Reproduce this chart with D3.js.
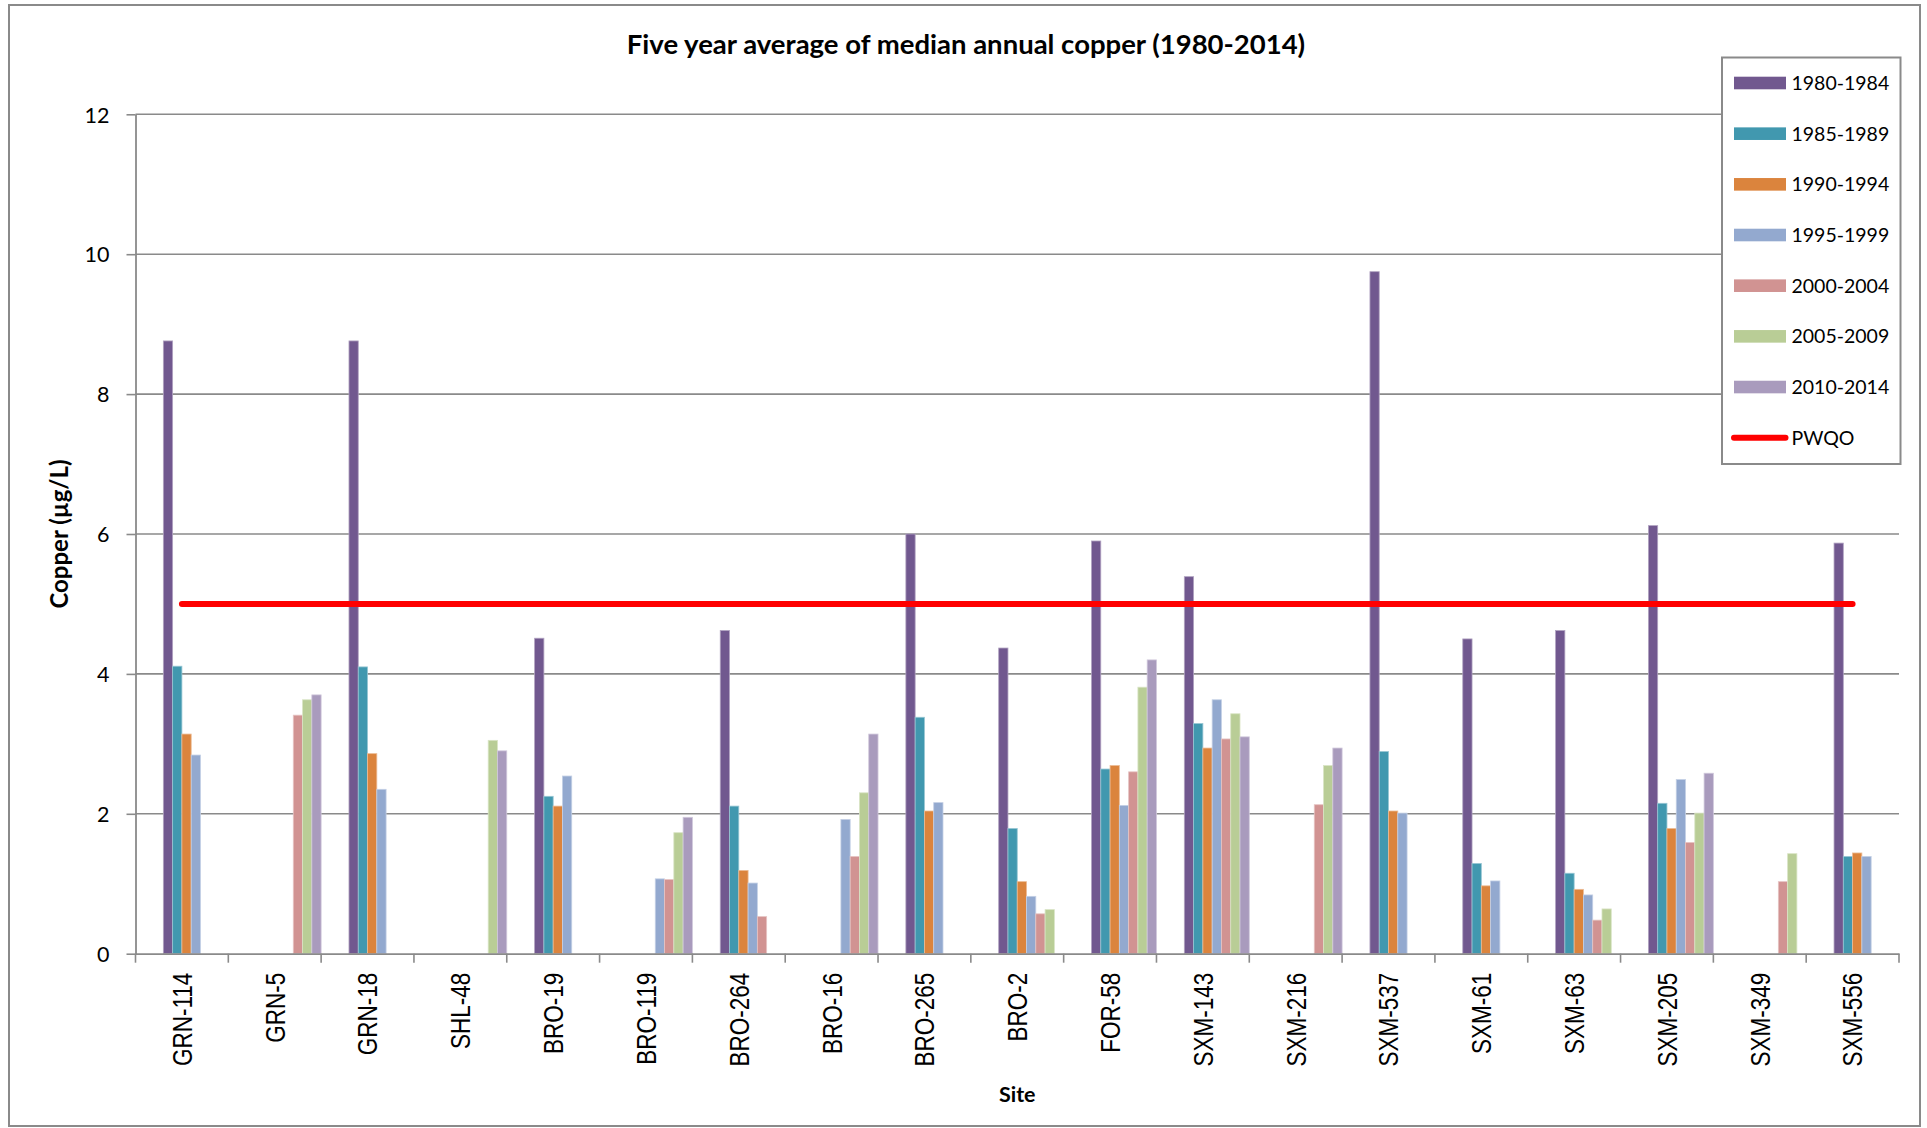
<!DOCTYPE html>
<html>
<head>
<meta charset="utf-8">
<script src="https://cdn.jsdelivr.net/npm/d3@7"></script>
<style>
  html, body { margin: 0; padding: 0; background: #fff; }
  svg { display: block; }
</style>
</head>
<body>
<svg id="chart" width="1927" height="1128"></svg>
<script>
// Sites along the x axis
const sites = ["GRN-114", "GRN-5", "GRN-18", "SHL-48", "BRO-19", "BRO-119", "BRO-264",
  "BRO-16", "BRO-265", "BRO-2", "FOR-58", "SXM-143", "SXM-216", "SXM-537", "SXM-61",
  "SXM-63", "SXM-205", "SXM-349", "SXM-556"];

// Five-year averages of median annual copper (µg/L); null = no data for that period
const p1980_1984 = [8.76, null, 8.76, null, 4.51, null, 4.62, null, 6.00, 4.37, 5.90, 5.39, null, 9.75, 4.50, 4.62, 6.12, null, 5.87];
const p1985_1989 = [4.11, null, 4.10, null, 2.25, null, 2.11, null, 3.38, 1.79, 2.64, 3.29, null, 2.89, 1.29, 1.15, 2.15, null, 1.39];
const p1990_1994 = [3.14, null, 2.86, null, 2.11, null, 1.19, null, 2.04, 1.03, 2.69, 2.94, null, 2.04, 0.97, 0.92, 1.79, null, 1.44];
const p1995_1999 = [2.84, null, 2.35, null, 2.54, 1.07, 1.01, 1.92, 2.16, 0.82, 2.12, 3.63, null, 2.01, 1.04, 0.84, 2.49, null, 1.39];
const p2000_2004 = [null, 3.41, null, null, null, 1.06, 0.53, 1.39, null, 0.57, 2.60, 3.07, 2.13, null, null, 0.48, 1.59, 1.03, null];
const p2005_2009 = [null, 3.63, null, 3.05, null, 1.73, null, 2.30, null, 0.63, 3.81, 3.43, 2.69, null, null, 0.64, 2.01, 1.43, null];
const p2010_2014 = [null, 3.70, null, 2.90, null, 1.95, null, 3.14, null, null, 4.20, 3.10, 2.94, null, null, null, 2.58, null, null];

const periodNames = ["1980-1984", "1985-1989", "1990-1994", "1995-1999", "2000-2004", "2005-2009", "2010-2014"];
const periodValues = [p1980_1984, p1985_1989, p1990_1994, p1995_1999, p2000_2004, p2005_2009, p2010_2014];
const periodColors = ["#71588f", "#4198af", "#db843d", "#93a9cf", "#d19392", "#b9cd96", "#a99bbd"];

// Provincial Water Quality Objective for copper
const pwqoName = "PWQO";
const pwqoValue = 5;
const pwqoColor = "#ff0000";

const yTicks = [0, 2, 4, 6, 8, 10, 12];

const titleText = "Five year average of median annual copper (1980-2014)";
const yTitle = "Copper (µg/L)";
const xTitle = "Site";

// Layout
const svg = d3.select("#chart");
const plot = { left: 135.5, right: 1899, top: 114.3, bottom: 953.7 };
const gridColor = "#8a8a8a";
const labelFont = "Lato, 'Open Sans', sans-serif";
const tickFont = "'Liberation Sans', Arial, sans-serif";

// Outer chart frame
svg.append("rect")
  .attr("x", 9).attr("y", 5).attr("width", 1911).attr("height", 1121)
  .attr("fill", "#fff").attr("stroke", gridColor).attr("stroke-width", 2);

// Scales
const x0 = d3.scaleBand().domain(sites).range([plot.left, plot.right]).padding(0);
const bw = x0.bandwidth();
const x1 = d3.scaleBand().domain(periodNames).range([0.3 * bw, bw]).padding(0);
const y = d3.scaleLinear().domain([0, 12]).range([plot.bottom, plot.top]);

// Horizontal gridlines
svg.append("g")
  .selectAll("line")
  .data(yTicks.filter(v => v > 0))
  .join("line")
  .attr("x1", plot.left).attr("x2", plot.right)
  .attr("y1", d => y(d)).attr("y2", d => y(d))
  .attr("stroke", gridColor).attr("stroke-width", 1.6);

// Bars
const barRows = [];
periodNames.forEach((p, i) => {
  periodValues[i].forEach((v, j) => {
    if (v != null) barRows.push({ site: sites[j], period: p, value: v, color: periodColors[i] });
  });
});

svg.append("g")
  .selectAll("rect")
  .data(barRows)
  .join("rect")
  .attr("x", d => x0(d.site) + x1(d.period))
  .attr("y", d => y(d.value))
  .attr("width", x1.bandwidth())
  .attr("height", d => y(0) - y(d.value))
  .attr("fill", d => d.color)
  .attr("stroke", d => d3.interpolateRgb(d.color, "#ffffff")(0.45))
  .attr("stroke-width", 0.8);

// Y axis
const yAxis = d3.axisLeft(y).tickValues(yTicks).tickSize(9).tickSizeOuter(0).tickPadding(17);
const gy = svg.append("g").attr("transform", `translate(${plot.left},0)`).call(yAxis);
gy.select(".domain").attr("stroke", gridColor).attr("stroke-width", 1.8);
gy.selectAll(".tick line").attr("stroke", gridColor).attr("stroke-width", 1.6);
gy.selectAll(".tick text")
  .attr("font-family", labelFont).attr("font-size", 21.5).attr("fill", "#000")
  .attr("dy", "0.36em");

// X axis: category labels at centres, tick marks at category boundaries
const xAxis = d3.axisBottom(x0).tickSize(0).tickSizeOuter(0);
const gx = svg.append("g").attr("transform", `translate(0,${plot.bottom})`).call(xAxis);
gx.select(".domain").attr("stroke", gridColor).attr("stroke-width", 1.8);
gx.selectAll(".tick text")
  .attr("font-family", tickFont).attr("font-size", 22.5).attr("fill", "#000")
  .attr("text-anchor", "end")
  .attr("transform", "rotate(-90) scale(1,1.22)")
  .attr("x", -19).attr("y", 0).attr("dy", "0.36em");

const boundaries = sites.map(s => x0(s)).concat([plot.right]);
svg.append("g")
  .selectAll("line")
  .data(boundaries)
  .join("line")
  .attr("x1", d => d).attr("x2", d => d)
  .attr("y1", plot.bottom).attr("y2", plot.bottom + 9)
  .attr("stroke", gridColor).attr("stroke-width", 1.6);

// PWQO guideline across category centres
const pwqoLine = d3.line().x(d => x0(d) + bw / 2).y(() => y(pwqoValue));
svg.append("path")
  .datum(sites)
  .attr("d", pwqoLine)
  .attr("fill", "none").attr("stroke", pwqoColor)
  .attr("stroke-width", 6).attr("stroke-linecap", "round");

// Titles
svg.append("text")
  .attr("x", 966).attr("y", 54)
  .attr("text-anchor", "middle")
  .attr("font-family", labelFont).attr("font-weight", 700).attr("font-size", 27.5)
  .text(titleText);

svg.append("text")
  .attr("transform", `translate(60,${(plot.top + plot.bottom) / 2}) rotate(-90)`)
  .attr("text-anchor", "middle")
  .attr("dy", "0.35em")
  .attr("font-family", labelFont).attr("font-weight", 700).attr("font-size", 24)
  .text(yTitle);

svg.append("text")
  .attr("x", (plot.left + plot.right) / 2).attr("y", 1102)
  .attr("text-anchor", "middle")
  .attr("font-family", labelFont).attr("font-weight", 700).attr("font-size", 21.5)
  .text(xTitle);

// Legend
const legend = svg.append("g");
legend.append("rect")
  .attr("x", 1722).attr("y", 57.5).attr("width", 178.5).attr("height", 406.5)
  .attr("fill", "#fff").attr("stroke", gridColor).attr("stroke-width", 2);

const legendItems = periodNames.map((p, i) => ({ name: p, color: periodColors[i], type: "bar" }))
  .concat([{ name: pwqoName, color: pwqoColor, type: "line" }]);
const legendY = d3.scalePoint().domain(legendItems.map(d => d.name)).range([83, 437.7]);

const li = legend.selectAll("g.item")
  .data(legendItems)
  .join("g")
  .attr("class", "item")
  .attr("transform", d => `translate(0,${legendY(d.name)})`);

li.filter(d => d.type === "bar").append("rect")
  .attr("x", 1734).attr("y", -6.3).attr("width", 52).attr("height", 12.6)
  .attr("fill", d => d.color);

li.filter(d => d.type === "line").append("line")
  .attr("x1", 1734).attr("x2", 1785.5).attr("y1", 0).attr("y2", 0)
  .attr("stroke", d => d.color).attr("stroke-width", 6).attr("stroke-linecap", "round");

li.append("text")
  .attr("x", 1791.5).attr("dy", "0.36em")
  .attr("font-family", labelFont).attr("font-size", 19.5).attr("fill", "#000")
  .text(d => d.name);
</script>
</body>
</html>
